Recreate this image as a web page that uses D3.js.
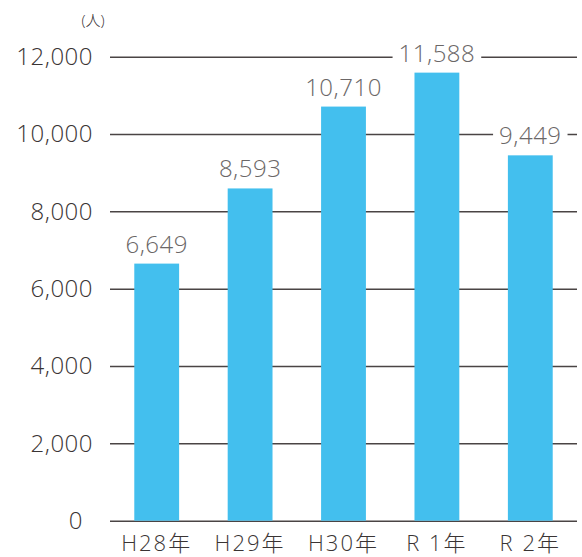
<!DOCTYPE html>
<html>
<head>
<meta charset="utf-8">
<script src="https://cdn.jsdelivr.net/npm/d3@7"></script>
<style>
  html, body { margin: 0; padding: 0; background: #fff; }
  svg { display: block; font-family: "Open Sans", "Noto Sans CJK JP", sans-serif; font-weight: 300; }
</style>
</head>
<body>
<svg id="chart" width="582" height="557"></svg>
<script>
// Annual totals (persons)
const categories = ["H28年", "H29年", "H30年", "R 1年", "R 2年"];
const values = [6649, 8593, 10710, 11588, 9449];
const tickValues = [0, 2000, 4000, 6000, 8000, 10000, 12000];
const unitLabel = "(人)";

const fontStack = "\"Open Sans\", \"Noto Sans CJK JP\", sans-serif";
const svg = d3.select("#chart");
const plotLeft = 110, plotRight = 577, plotTop = 56.7, plotBottom = 520.7;

const x = d3.scaleBand()
  .domain(categories)
  .range([plotLeft, plotRight])
  .paddingInner(0.52)
  .paddingOuter(0.26);

const y = d3.scaleLinear()
  .domain([0, 12000])
  .range([plotBottom, plotTop]);

// Horizontal gridlines with value labels on the left
const yAxis = d3.axisLeft(y)
  .tickValues(tickValues)
  .tickFormat(d3.format(","))
  .tickSize(-(plotRight - plotLeft))
  .tickPadding(17);

const gy = svg.append("g")
  .attr("transform", `translate(${plotLeft},0)`)
  .call(yAxis);
gy.select(".domain").remove();
gy.selectAll(".tick line").attr("stroke", "#4a4444").attr("stroke-width", 1.5);
gy.selectAll(".tick text")
  .attr("fill", "#3a3434")
  .attr("font-size", 24)
  .attr("letter-spacing", 0.5)
  .attr("font-family", fontStack)
  .attr("font-weight", 300);
gy.selectAll(".tick text").filter(d => d === 0).attr("dx", -10);

// Unit label
svg.append("text")
  .attr("x", 93)
  .attr("y", 26)
  .attr("text-anchor", "middle")
  .attr("fill", "#3a3434")
  .attr("font-size", 15)
  .text(unitLabel);

// Bars
svg.append("g").selectAll("rect")
  .data(values)
  .join("rect")
  .attr("x", (d, i) => x(categories[i]))
  .attr("y", d => y(d))
  .attr("width", x.bandwidth())
  .attr("height", d => y(0) - y(d))
  .attr("fill", "#43bfee");

// Value labels on a white backing so gridlines break behind them
const labels = svg.append("g").selectAll("g")
  .data(values)
  .join("g")
  .attr("transform", (d, i) => `translate(${x(categories[i]) + x.bandwidth() / 2},${y(d) - 11})`);

labels.append("rect").attr("fill", "#fff");
labels.append("text")
  .attr("text-anchor", "middle")
  .attr("fill", "#6b6767")
  .attr("font-size", 24)
  .attr("letter-spacing", 0.5)
  .text(d => d3.format(",")(d));

labels.each(function() {
  const g = d3.select(this);
  const bb = g.select("text").node().getBBox();
  g.select("rect")
    .attr("x", bb.x - 6)
    .attr("y", bb.y + 3)
    .attr("width", bb.width + 12)
    .attr("height", bb.height - 6);
});

// Category labels
svg.append("g").selectAll("text")
  .data(categories)
  .join("text")
  .attr("x", d => x(d) + x.bandwidth() / 2)
  .attr("y", 551)
  .attr("text-anchor", "middle")
  .attr("fill", "#3a3434")
  .attr("font-size", 22)
  .attr("letter-spacing", 2)
  .text(d => d);
</script>
</body>
</html>
